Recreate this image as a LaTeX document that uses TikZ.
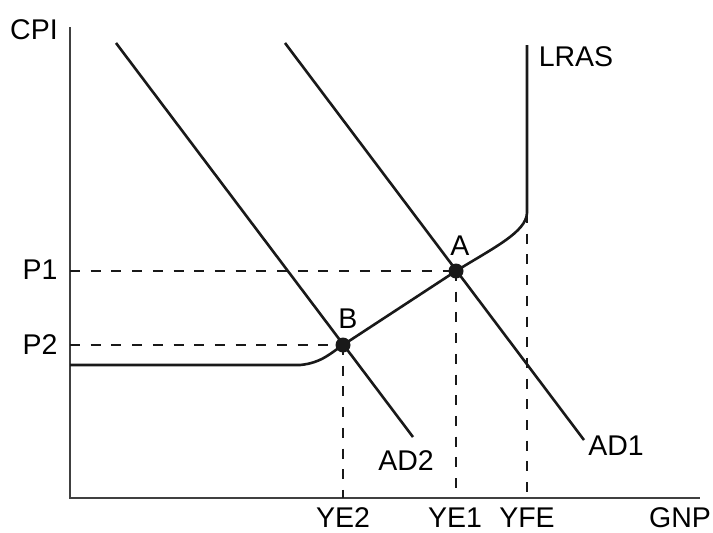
\documentclass[tikz,border=0pt]{standalone}
\usepackage{fontspec}
\setmainfont{Liberation Sans}
\usetikzlibrary{positioning}

\begin{document}
\begin{tikzpicture}[
    x=1pt, y=-1pt,
    every node/.style={font=\fontsize{28.5}{31}\selectfont, inner sep=0pt},
    axis/.style={line width=1.6pt, draw=black!75},
    curve/.style={line width=2.6pt, draw=black!90},
    guide/.style={line width=2.6pt, draw=black!90, dash pattern=on 10pt off 10.7pt},
    eqpoint/.style={circle, fill=black!90, minimum size=15pt, inner sep=0pt}
]
\useasboundingbox (0,0) rectangle (713,533);

% axes
\coordinate (origin) at (70,498);
\coordinate (ytop) at (70,27);
\coordinate (xend) at (700,498);
\draw[axis] (ytop) -- (origin) -- (xend);
\node (cpi) at (34,30) {CPI};
\node (gnp) at (680,518) {GNP};

% equilibrium points
\node[eqpoint] (A) at (456,271) {};
\node[eqpoint] (B) at (343,345) {};
\node (lblA) at (460,246) {A};
\node (lblB) at (348,319) {B};

% aggregate supply and LRAS
\coordinate (asstart) at (70,365);
\coordinate (askink) at (300,365);
\coordinate (lrasfoot) at (527,213);
\coordinate (lrastop) at (527,45);
\draw[curve] (asstart) -- (askink)
    .. controls (322,363) and (332,352) .. (B.center)
    -- (A.center)
    .. controls (495,247) and (526,232) .. (lrasfoot) -- (lrastop);
\node (lras) at (576,57) {LRAS};

% aggregate demand
\coordinate (adonetop) at (285,43);
\coordinate (adoneend) at (584,440);
\coordinate (adtwotop) at (116,43);
\coordinate (adtwoend) at (413,437);
\draw[curve] (adonetop) -- (adoneend);
\draw[curve] (adtwotop) -- (adtwoend);
\node (adone) at (616,446) {AD1};
\node (adtwo) at (406,461) {AD2};

% guide lines
\coordinate (pone) at (70,271);
\coordinate (ptwo) at (70,345);
\coordinate (yeone) at (456,498);
\coordinate (yetwo) at (343,498);
\coordinate (yfe) at (527,498);
\draw[guide] (pone) -- (A.center);
\draw[guide] (ptwo) -- (B.center);
\draw[guide] (A.center) -- (yeone);
\draw[guide] (B.center) -- (yetwo);
\draw[guide] (lrasfoot) -- (yfe);

% axis labels
\node (lblpone) at (40,270) {P1};
\node (lblptwo) at (40,345) {P2};
\node (lblyetwo) at (343,518) {YE2};
\node (lblyeone) at (455,518) {YE1};
\node (lblyfe) at (527,518) {YFE};

\end{tikzpicture}
\end{document}
